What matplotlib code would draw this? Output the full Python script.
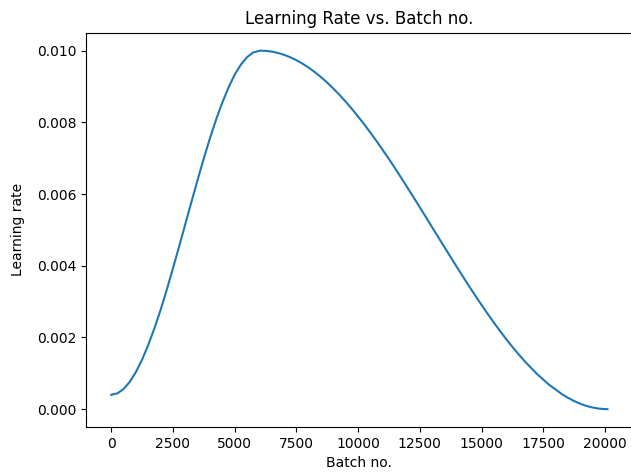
import matplotlib
matplotlib.use("Agg")
import matplotlib.pyplot as plt

# ---- data (one-cycle schedule) ----
BATCH = [0, 250, 500, 750, 1000, 1250, 1500, 1750, 2000, 2250, 2500, 2750,
         3000, 3250, 3500, 3750, 4000, 4250, 4500, 4750, 5000, 5250, 5500,
         5750, 6030, 6250, 6500, 6750, 7000, 7250, 7500, 7750, 8000, 8250,
         8500, 8750, 9000, 9250, 9500, 9750, 10000, 10250, 10500, 10750,
         11000, 11250, 11500, 11750, 12000, 12250, 12500, 12750, 13000, 13250,
         13500, 13750, 14000, 14250, 14500, 14750, 15000, 15250, 15500, 15750,
         16000, 16250, 16500, 16750, 17000, 17250, 17500, 17750, 18000, 18250,
         18500, 18750, 19000, 19250, 19500, 19750, 20000, 20100]
LR = [0.000400, 0.000441, 0.000562, 0.000762, 0.001037, 0.001383, 0.001793,
      0.002258, 0.002772, 0.003334, 0.003928, 0.004540, 0.005163, 0.005786,
      0.006400, 0.006996, 0.007559, 0.008082, 0.008554, 0.008971, 0.009331,
      0.009609, 0.009818, 0.009949, 0.010000, 0.009994, 0.009973, 0.009936,
      0.009883, 0.009816, 0.009733, 0.009636, 0.009524, 0.009398, 0.009259,
      0.009106, 0.008940, 0.008763, 0.008573, 0.008373, 0.008161, 0.007941,
      0.007709, 0.007473, 0.007226, 0.006975, 0.006714, 0.006447, 0.006177,
      0.005905, 0.005629, 0.005352, 0.005072, 0.004794, 0.004515, 0.004238,
      0.003964, 0.003693, 0.003423, 0.003163, 0.002907, 0.002656, 0.002412,
      0.002179, 0.001952, 0.001737, 0.001531, 0.001335, 0.001154, 0.000979,
      0.000825, 0.000673, 0.000549, 0.000421, 0.000317, 0.000226, 0.000150,
      0.0000898, 0.000045, 0.0000153, 0.0000013, 0.0]

fig = plt.figure(figsize=(6.31, 4.74), dpi=100)
ax = fig.add_axes([0.137, 0.099, 0.865, 0.832])
ax.plot(BATCH, LR, color="#1f77b4")
ax.set_xlabel("Batch no.")
ax.set_ylabel("Learning rate", labelpad=9)
ax.set_title("Learning Rate vs. Batch no.")
fig.savefig("out.png", dpi=100)
